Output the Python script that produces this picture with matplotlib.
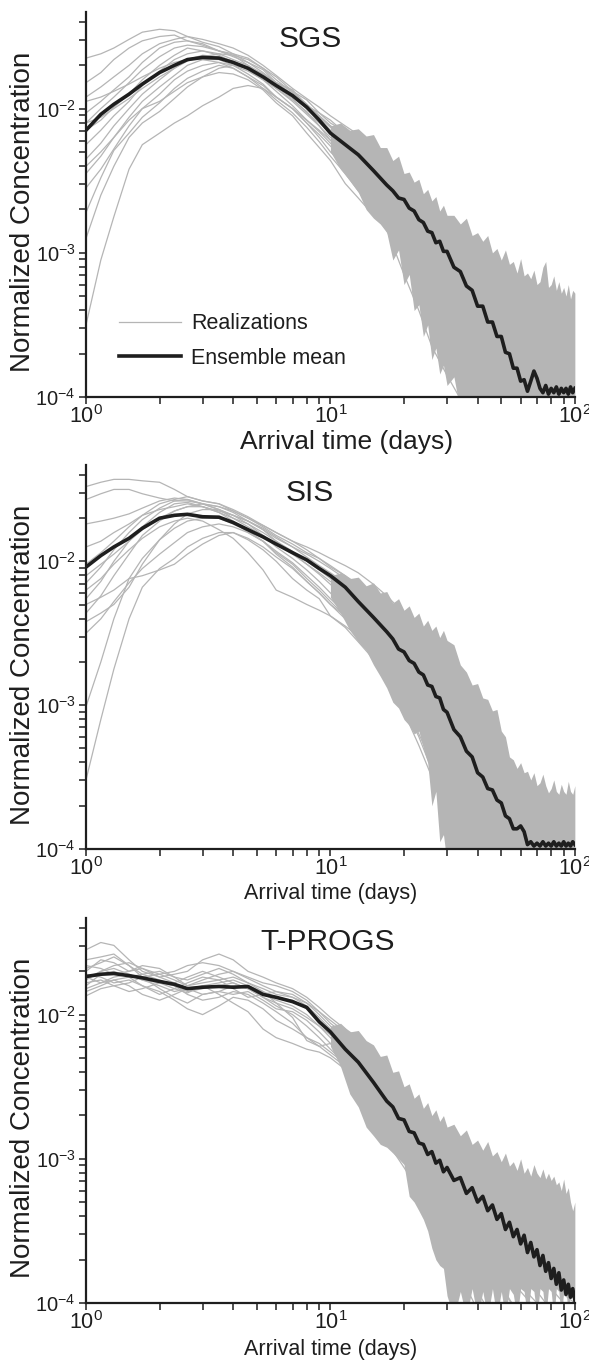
# Breakthrough curves: realizations vs ensemble mean for SGS, SIS and T-PROGS

import numpy as np
import matplotlib
matplotlib.use("Agg")
import matplotlib.pyplot as plt
from matplotlib.ticker import LogLocator, NullFormatter

plt.rcParams['font.family'] = ['Liberation Sans', 'DejaVu Sans']
plt.rcParams['mathtext.fontset'] = 'custom'
plt.rcParams['mathtext.rm'] = 'Liberation Sans'
plt.rcParams['mathtext.it'] = 'Liberation Sans:italic'

# time (days) of the realization points
t_real = [1.0, 1.15, 1.3, 1.5, 1.7, 2.0, 2.3, 2.6, 3.0, 3.5, 4.0, 4.6, 5.3, 6.0, 7.0,
          8.0, 9.0, 10, 11.5, 13, 15, 17, 20, 23, 26, 30, 35, 40, 46, 53, 60, 70, 80, 90, 100]

# time (days) of the spread of the noisy late-time realizations
t_band = [10, 11, 12, 13, 14, 15, 16, 17, 18, 19, 20, 21, 22, 23, 24, 25, 26, 27, 28, 29, 30,
          32, 34, 36, 38, 40, 42, 44, 46, 48, 50, 52, 54, 56, 58, 60, 62, 64, 66, 68, 70,
          72, 74, 76, 78, 80, 82, 84, 86, 88, 90, 92, 94, 96, 98, 100]

# time (days) of the ensemble mean points
t_mean = [1.0, 1.15, 1.3, 1.5, 1.7, 2.0, 2.3, 2.6, 3.0, 3.5, 4.0, 4.6, 5.3, 6.0, 7.0,
          8.0, 9.0, 10, 11.5, 13, 15, 17,
          18, 19, 20, 21, 22, 23, 24, 25, 26, 27, 28, 29, 30,
          32, 34, 36, 38, 40, 42, 44, 46, 48, 50, 52, 54, 56, 58, 60, 62, 64, 66, 68, 70,
          72, 74, 76, 78, 80, 82, 84, 86, 88, 90, 92, 94, 96, 98, 100]

# all concentrations below are log10 of normalized concentration

# ---------------- SGS ----------------
sgs_real = [
    [-1.65, -1.62, -1.58, -1.52, -1.47, -1.45, -1.46, -1.50, -1.52, -1.55, -1.58, -1.63, -1.70, -1.77, -1.86, -1.93, -1.99, -2.05, -2.12, -2.18, -2.25, -2.34, -2.46, -2.57, -2.68, -2.78, -2.88, -2.96, -3.06, -3.13, -3.20, -3.25, -3.30, -3.33, -3.38],
    [-1.82, -1.75, -1.66, -1.58, -1.53, -1.50, -1.49, -1.53, -1.55, -1.60, -1.62, -1.68, -1.73, -1.82, -1.87, -1.98, -2.03, -2.10, -2.16, -2.24, -2.30, -2.40, -2.52, -2.63, -2.74, -2.85, -2.97, -3.07, -3.18, -3.30, -3.40, -3.50, -3.58, -3.66, -3.72],
    [-1.92, -1.85, -1.78, -1.70, -1.62, -1.55, -1.52, -1.50, -1.54, -1.57, -1.62, -1.65, -1.72, -1.78, -1.88, -1.94, -2.03, -2.08, -2.17, -2.22, -2.32, -2.42, -2.55, -2.68, -2.80, -2.93, -3.08, -3.22, -3.38, -3.55, -3.70, -3.85, -3.95, -4.10, -4.20],
    [-2.03, -1.95, -1.87, -1.78, -1.68, -1.58, -1.54, -1.53, -1.56, -1.60, -1.64, -1.68, -1.75, -1.82, -1.88, -1.97, -2.05, -2.12, -2.20, -2.27, -2.36, -2.46, -2.58, -2.70, -2.83, -2.95, -3.12, -3.28, -3.45, -3.62, -3.80, -3.95, -4.10, -4.20, -4.30],
    [-2.10, -2.00, -1.92, -1.82, -1.73, -1.64, -1.58, -1.56, -1.57, -1.60, -1.63, -1.70, -1.78, -1.84, -1.92, -2.00, -2.07, -2.15, -2.23, -2.30, -2.40, -2.50, -2.62, -2.76, -2.88, -3.02, -3.18, -3.35, -3.52, -3.72, -3.90, -4.10, -4.20, -4.30, -4.40],
    [-2.15, -2.08, -1.99, -1.90, -1.80, -1.70, -1.63, -1.58, -1.60, -1.62, -1.66, -1.70, -1.76, -1.85, -1.93, -2.03, -2.10, -2.17, -2.24, -2.33, -2.44, -2.55, -2.66, -2.80, -2.93, -3.08, -3.25, -3.42, -3.60, -3.82, -4.00, -4.20, -4.30, -4.40, -4.50],
    [-2.25, -2.15, -2.05, -1.95, -1.84, -1.74, -1.66, -1.62, -1.60, -1.63, -1.68, -1.73, -1.80, -1.86, -1.95, -2.04, -2.12, -2.20, -2.28, -2.36, -2.48, -2.58, -2.72, -2.86, -3.00, -3.14, -3.32, -3.50, -3.70, -3.90, -4.10, -4.30, -4.40, -4.50, -4.50],
    [-2.35, -2.24, -2.12, -2.00, -1.90, -1.80, -1.72, -1.66, -1.63, -1.64, -1.67, -1.72, -1.78, -1.86, -1.94, -2.02, -2.12, -2.22, -2.32, -2.42, -2.55, -2.66, -2.80, -2.96, -3.12, -3.28, -3.45, -3.65, -3.85, -4.05, -4.20, -4.40, -4.50, -4.50, -4.50],
    [-2.45, -2.33, -2.20, -2.06, -1.95, -1.85, -1.77, -1.70, -1.66, -1.66, -1.70, -1.76, -1.83, -1.92, -2.00, -2.10, -2.18, -2.26, -2.36, -2.46, -2.60, -2.72, -2.88, -3.04, -3.20, -3.38, -3.56, -3.76, -3.96, -4.10, -4.30, -4.50, -4.50, -4.50, -4.50],
    [-2.55, -2.42, -2.28, -2.12, -2.00, -1.90, -1.80, -1.74, -1.70, -1.68, -1.70, -1.74, -1.80, -1.88, -1.98, -2.08, -2.16, -2.24, -2.34, -2.42, -2.52, -2.64, -2.78, -2.92, -3.06, -3.22, -3.40, -3.58, -3.78, -3.98, -4.15, -4.35, -4.50, -4.50, -4.50],
    [-2.72, -2.48, -2.29, -2.17, -2.06, -1.96, -1.86, -1.79, -1.74, -1.70, -1.72, -1.78, -1.86, -1.94, -2.03, -2.13, -2.23, -2.33, -2.45, -2.57, -2.70, -2.83, -3.00, -3.18, -3.35, -3.55, -3.75, -3.95, -4.15, -4.35, -4.50, -4.50, -4.50, -4.50, -4.50],
    [-3.50, -3.05, -2.75, -2.42, -2.25, -2.17, -2.10, -2.05, -1.98, -1.92, -1.86, -1.84, -1.86, -1.92, -2.00, -2.08, -2.15, -2.22, -2.30, -2.38, -2.50, -2.60, -2.72, -2.85, -2.98, -3.12, -3.30, -3.48, -3.68, -3.88, -4.05, -4.25, -4.40, -4.50, -4.50],
    [-2.90, -2.60, -2.40, -2.20, -2.10, -2.02, -1.93, -1.85, -1.78, -1.72, -1.70, -1.72, -1.76, -1.82, -1.90, -1.98, -2.06, -2.13, -2.20, -2.28, -2.38, -2.48, -2.60, -2.72, -2.84, -2.98, -3.12, -3.26, -3.40, -3.56, -3.70, -3.85, -3.98, -4.10, -4.20],
    [-2.40, -2.30, -2.20, -2.08, -2.00, -1.95, -1.88, -1.82, -1.78, -1.75, -1.76, -1.80, -1.87, -1.96, -2.05, -2.17, -2.27, -2.36, -2.52, -2.62, -2.74, -2.84, -3.15, -3.40, -3.65, -3.85, -4.05, -4.30, -4.50, -4.50, -4.50, -4.50, -4.50, -4.50, -4.50],
    [-2.10, -2.06, -2.00, -1.93, -1.86, -1.78, -1.72, -1.67, -1.64, -1.62, -1.63, -1.66, -1.72, -1.80, -1.89, -1.97, -2.05, -2.12, -2.18, -2.24, -2.33, -2.43, -2.55, -2.66, -2.78, -2.88, -3.00, -3.10, -3.22, -3.34, -3.45, -3.56, -3.66, -3.75, -3.82],
    [-1.95, -1.92, -1.88, -1.83, -1.78, -1.72, -1.68, -1.66, -1.66, -1.68, -1.72, -1.78, -1.84, -1.92, -2.00, -2.10, -2.20, -2.30, -2.40, -2.50, -2.62, -2.75, -2.90, -3.05, -3.20, -3.38, -3.58, -3.78, -3.98, -4.20, -4.40, -4.50, -4.50, -4.50, -4.50],
]
sgs_mean = [-2.15, -2.04, -1.97, -1.90, -1.83, -1.75, -1.70, -1.66, -1.645, -1.65, -1.68,
            -1.72, -1.78, -1.84, -1.91, -1.99, -2.08, -2.17, -2.25, -2.32, -2.43, -2.53,
            -2.57, -2.62, -2.63, -2.69, -2.71, -2.77, -2.79, -2.85, -2.86, -2.93, -2.92,
            -2.99, -2.99, -3.10, -3.13, -3.23, -3.26, -3.37, -3.37, -3.48, -3.48, -3.58,
            -3.58, -3.69, -3.70, -3.80, -3.80, -3.89, -3.88, -3.96, -3.89, -3.82, -3.87,
            -3.94, -3.97, -3.92, -3.98, -3.94, -3.97, -3.93, -3.98, -3.94, -3.97, -3.94,
            -3.98, -3.93, -3.97, -3.94]
sgs_band_hi = [-2.12, -2.10, -2.15, -2.14, -2.19, -2.18, -2.27, -2.27, -2.36, -2.33, -2.45,
               -2.44, -2.51, -2.49, -2.59, -2.56, -2.64, -2.61, -2.71, -2.67, -2.74, -2.74,
               -2.80, -2.76, -2.88, -2.86, -2.92, -2.88, -3.00, -2.97, -3.05, -2.98, -3.08,
               -3.06, -3.14, -3.04, -3.16, -3.14, -3.18, -3.12, -3.22, -3.20, -3.10, -3.06,
               -3.24, -3.22, -3.16, -3.26, -3.20, -3.28, -3.24, -3.30, -3.22, -3.32, -3.26,
               -3.28]
sgs_band_lo = [-2.30, -2.42, -2.50, -2.58, -2.70, -2.76, -2.80, -2.86, -3.05, -2.98, -3.22,
               -3.15, -3.40, -3.36, -3.58, -3.50, -3.74, -3.66, -3.84, -3.78, -3.92, -3.86,
               -4.10, -4.10, -4.10, -4.10, -4.10, -4.10, -4.10, -4.10, -4.10, -4.10, -4.10,
               -4.10, -4.10, -4.10, -4.10, -4.10, -4.10, -4.10, -4.10, -4.10, -4.10, -4.10,
               -4.10, -4.10, -4.10, -4.10, -4.10, -4.10, -4.10, -4.10, -4.10, -4.10, -4.10,
               -4.10]

# ---------------- SIS ----------------
sis_real = [
    [-1.48, -1.45, -1.43, -1.43, -1.44, -1.45, -1.50, -1.55, -1.58, -1.60, -1.65, -1.70, -1.76, -1.82, -1.88, -1.94, -1.98, -2.03, -2.10, -2.16, -2.24, -2.32, -2.43, -2.55, -2.68, -2.84, -3.02, -3.20, -3.38, -3.55, -3.70, -3.85, -4.00, -4.20, -4.40],
    [-1.57, -1.53, -1.50, -1.50, -1.53, -1.56, -1.58, -1.58, -1.60, -1.62, -1.66, -1.72, -1.78, -1.84, -1.90, -1.95, -2.00, -2.05, -2.12, -2.18, -2.26, -2.34, -2.46, -2.60, -2.74, -2.92, -3.12, -3.32, -3.50, -3.68, -3.85, -4.00, -4.20, -4.40, -4.50],
    [-1.74, -1.72, -1.70, -1.67, -1.63, -1.58, -1.56, -1.57, -1.60, -1.64, -1.68, -1.72, -1.78, -1.86, -1.93, -2.00, -2.06, -2.12, -2.20, -2.28, -2.40, -2.52, -2.66, -2.82, -2.98, -3.15, -3.35, -3.55, -3.75, -3.95, -4.10, -4.30, -4.50, -4.50, -4.50],
    [-2.02, -1.94, -1.86, -1.76, -1.68, -1.60, -1.57, -1.55, -1.58, -1.60, -1.64, -1.69, -1.75, -1.80, -1.86, -1.90, -1.94, -1.98, -2.03, -2.08, -2.16, -2.24, -2.36, -2.48, -2.60, -2.76, -2.95, -3.10, -3.28, -3.45, -3.58, -3.70, -3.85, -4.00, -4.10],
    [-2.15, -2.04, -1.92, -1.80, -1.71, -1.63, -1.58, -1.57, -1.60, -1.64, -1.70, -1.76, -1.82, -1.88, -1.95, -2.02, -2.08, -2.14, -2.22, -2.30, -2.42, -2.55, -2.70, -2.86, -3.02, -3.20, -3.42, -3.62, -3.82, -4.00, -4.20, -4.40, -4.50, -4.50, -4.50],
    [-2.26, -2.14, -2.00, -1.86, -1.76, -1.66, -1.60, -1.59, -1.62, -1.66, -1.70, -1.74, -1.80, -1.86, -1.94, -2.02, -2.09, -2.16, -2.26, -2.36, -2.50, -2.64, -2.82, -3.00, -3.18, -3.38, -3.60, -3.82, -4.05, -4.25, -4.45, -4.50, -4.50, -4.50, -4.50],
    [-2.36, -2.24, -2.10, -1.95, -1.82, -1.72, -1.65, -1.62, -1.62, -1.65, -1.68, -1.72, -1.77, -1.83, -1.90, -1.97, -2.03, -2.08, -2.15, -2.22, -2.32, -2.42, -2.55, -2.70, -2.85, -3.02, -3.20, -3.38, -3.55, -3.72, -3.90, -4.05, -4.20, -4.35, -4.50],
    [-2.42, -2.36, -2.30, -2.18, -2.02, -1.85, -1.74, -1.67, -1.64, -1.64, -1.68, -1.74, -1.82, -1.90, -1.98, -2.06, -2.14, -2.22, -2.32, -2.44, -2.58, -2.74, -2.92, -3.12, -3.32, -3.52, -3.75, -4.00, -4.20, -4.40, -4.50, -4.50, -4.50, -4.50, -4.50],
    [-3.01, -2.70, -2.40, -2.12, -1.98, -1.85, -1.77, -1.72, -1.70, -1.70, -1.74, -1.79, -1.86, -1.93, -2.01, -2.10, -2.18, -2.26, -2.36, -2.46, -2.60, -2.75, -2.92, -3.10, -3.30, -3.50, -3.72, -3.95, -4.15, -4.35, -4.50, -4.50, -4.50, -4.50, -4.50],
    [-3.52, -3.10, -2.75, -2.40, -2.18, -2.05, -1.98, -1.90, -1.84, -1.80, -1.80, -1.84, -1.90, -1.97, -2.05, -2.14, -2.22, -2.30, -2.40, -2.52, -2.66, -2.82, -3.00, -3.20, -3.40, -3.62, -3.85, -4.10, -4.30, -4.50, -4.50, -4.50, -4.50, -4.50, -4.50],
    [-2.30, -2.25, -2.20, -2.12, -2.10, -2.06, -2.02, -1.95, -1.88, -1.82, -1.80, -1.85, -1.92, -2.00, -2.12, -2.20, -2.26, -2.38, -2.46, -2.56, -2.68, -2.85, -3.05, -3.28, -3.50, -3.75, -4.00, -4.25, -4.50, -4.50, -4.50, -4.50, -4.50, -4.50, -4.50],
    [-1.90, -1.86, -1.80, -1.74, -1.68, -1.64, -1.62, -1.60, -1.62, -1.66, -1.72, -1.80, -1.86, -1.95, -2.04, -2.14, -2.22, -2.30, -2.38, -2.46, -2.56, -2.68, -2.86, -3.05, -3.25, -3.48, -3.72, -3.95, -4.15, -4.35, -4.50, -4.50, -4.50, -4.50, -4.50],
    [-2.10, -2.02, -1.95, -1.86, -1.78, -1.70, -1.65, -1.62, -1.60, -1.62, -1.65, -1.70, -1.75, -1.80, -1.86, -1.92, -1.98, -2.04, -2.10, -2.18, -2.28, -2.38, -2.50, -2.62, -2.75, -2.90, -3.08, -3.25, -3.42, -3.58, -3.72, -3.85, -4.00, -4.10, -4.20],
    [-2.50, -2.40, -2.28, -2.15, -2.05, -1.95, -1.87, -1.80, -1.76, -1.74, -1.76, -1.80, -1.86, -1.94, -2.02, -2.12, -2.20, -2.28, -2.38, -2.48, -2.62, -2.78, -2.96, -3.16, -3.36, -3.58, -3.82, -4.05, -4.30, -4.50, -4.50, -4.50, -4.50, -4.50, -4.50],
    [-2.20, -2.12, -2.02, -1.92, -1.84, -1.76, -1.72, -1.70, -1.72, -1.78, -1.84, -1.94, -2.06, -2.20, -2.25, -2.30, -2.34, -2.38, -2.45, -2.52, -2.62, -2.80, -3.00, -3.22, -3.45, -3.70, -3.95, -4.20, -4.45, -4.50, -4.50, -4.50, -4.50, -4.50, -4.50],
]
sis_mean = [-2.04, -1.96, -1.90, -1.84, -1.77, -1.70, -1.68, -1.673, -1.69, -1.693, -1.73,
            -1.78, -1.83, -1.88, -1.94, -1.99, -2.05, -2.10, -2.18, -2.28, -2.39, -2.49,
            -2.54, -2.61, -2.63, -2.69, -2.71, -2.77, -2.79, -2.86, -2.87, -2.94, -2.95,
            -3.03, -3.05, -3.17, -3.22, -3.32, -3.36, -3.47, -3.50, -3.58, -3.59, -3.66,
            -3.68, -3.77, -3.79, -3.86, -3.86, -3.84, -3.88, -3.97, -3.95, -3.98, -3.96,
            -3.98, -3.95, -3.98, -3.96, -3.98, -3.95, -3.98, -3.96, -3.98, -3.95, -3.98,
            -3.96, -3.98, -3.95, -3.97]
sis_band_hi = [-2.10, -2.08, -2.12, -2.11, -2.17, -2.15, -2.22, -2.21, -2.29, -2.26, -2.34,
               -2.31, -2.39, -2.36, -2.45, -2.41, -2.48, -2.45, -2.53, -2.48, -2.55, -2.58,
               -2.72, -2.77, -2.86, -2.85, -2.95, -2.96, -3.04, -3.03, -3.18, -3.22, -3.36,
               -3.38, -3.44, -3.40, -3.47, -3.46, -3.52, -3.47, -3.56, -3.54, -3.48, -3.56,
               -3.61, -3.58, -3.52, -3.60, -3.62, -3.55, -3.60, -3.62, -3.53, -3.60, -3.62,
               -3.56]
sis_band_lo = [-2.25, -2.36, -2.48, -2.56, -2.62, -2.72, -2.80, -2.88, -2.98, -3.02, -3.10,
               -3.14, -3.20, -3.18, -3.30, -3.40, -3.70, -3.60, -3.95, -3.90, -4.10, -4.10,
               -4.10, -4.10, -4.10, -4.10, -4.10, -4.10, -4.10, -4.10, -4.10, -4.10, -4.10,
               -4.10, -4.10, -4.10, -4.10, -4.10, -4.10, -4.10, -4.10, -4.10, -4.10, -4.10,
               -4.10, -4.10, -4.10, -4.10, -4.10, -4.10, -4.10, -4.10, -4.10, -4.10, -4.10,
               -4.10]

# ---------------- T-PROGS ----------------
tp_real = [
    [-1.55, -1.50, -1.52, -1.62, -1.70, -1.74, -1.72, -1.70, -1.62, -1.58, -1.62, -1.70, -1.74, -1.78, -1.82, -1.88, -1.95, -2.02, -2.10, -2.16, -2.26, -2.36, -2.52, -2.64, -2.74, -2.84, -2.94, -3.02, -3.08, -3.12, -3.16, -3.22, -3.28, -3.34, -3.42],
    [-1.68, -1.64, -1.60, -1.66, -1.72, -1.70, -1.74, -1.80, -1.76, -1.72, -1.70, -1.75, -1.80, -1.84, -1.86, -1.92, -2.00, -2.08, -2.18, -2.28, -2.42, -2.56, -2.72, -2.86, -2.96, -3.06, -3.16, -3.24, -3.32, -3.42, -3.50, -3.60, -3.70, -3.80, -3.88],
    [-1.75, -1.70, -1.68, -1.72, -1.76, -1.78, -1.82, -1.85, -1.80, -1.78, -1.76, -1.80, -1.84, -1.88, -1.90, -1.96, -2.04, -2.12, -2.22, -2.34, -2.50, -2.64, -2.80, -2.94, -3.04, -3.14, -3.25, -3.34, -3.44, -3.55, -3.65, -3.78, -3.90, -4.00, -4.10],
    [-1.82, -1.78, -1.74, -1.72, -1.76, -1.80, -1.84, -1.82, -1.86, -1.84, -1.80, -1.82, -1.86, -1.90, -1.94, -2.00, -2.08, -2.16, -2.26, -2.38, -2.54, -2.70, -2.88, -3.02, -3.14, -3.26, -3.38, -3.50, -3.62, -3.75, -3.88, -4.00, -4.15, -4.30, -4.40],
    [-1.87, -1.82, -1.80, -1.78, -1.74, -1.72, -1.76, -1.80, -1.78, -1.76, -1.74, -1.78, -1.82, -1.86, -1.88, -1.92, -1.98, -2.04, -2.12, -2.20, -2.30, -2.42, -2.58, -2.72, -2.84, -2.94, -3.04, -3.14, -3.22, -3.30, -3.38, -3.48, -3.58, -3.68, -3.78],
    [-1.62, -1.60, -1.58, -1.66, -1.74, -1.82, -1.88, -1.92, -1.86, -1.84, -1.86, -1.84, -1.90, -1.96, -1.98, -2.04, -2.12, -2.20, -2.32, -2.45, -2.62, -2.78, -2.96, -3.12, -3.26, -3.40, -3.55, -3.68, -3.82, -3.96, -4.10, -4.25, -4.40, -4.50, -4.50],
    [-1.70, -1.62, -1.64, -1.70, -1.66, -1.68, -1.74, -1.76, -1.72, -1.68, -1.72, -1.78, -1.84, -1.92, -1.96, -2.02, -2.08, -2.14, -2.24, -2.36, -2.52, -2.66, -2.82, -2.96, -3.08, -3.20, -3.32, -3.42, -3.54, -3.66, -3.78, -3.92, -4.05, -4.20, -4.30],
    [-1.78, -1.76, -1.80, -1.84, -1.82, -1.78, -1.80, -1.86, -1.90, -1.88, -1.84, -1.86, -1.92, -1.98, -2.06, -2.16, -2.22, -2.28, -2.36, -2.46, -2.62, -2.80, -3.00, -3.20, -3.40, -3.62, -3.85, -4.05, -4.25, -4.45, -4.50, -4.50, -4.50, -4.50, -4.50],
    [-1.72, -1.74, -1.78, -1.76, -1.80, -1.86, -1.82, -1.78, -1.74, -1.76, -1.82, -1.88, -1.86, -1.84, -1.88, -1.94, -2.02, -2.10, -2.20, -2.30, -2.44, -2.58, -2.74, -2.88, -3.00, -3.12, -3.24, -3.34, -3.44, -3.54, -3.64, -3.74, -3.84, -3.94, -4.00],
    [-1.80, -1.72, -1.70, -1.74, -1.80, -1.84, -1.90, -1.96, -2.00, -1.94, -1.88, -1.90, -1.96, -2.04, -2.10, -2.16, -2.20, -2.26, -2.34, -2.45, -2.60, -2.76, -2.94, -3.10, -3.24, -3.38, -3.52, -3.66, -3.80, -3.95, -4.10, -4.30, -4.50, -4.50, -4.50],
    [-1.66, -1.68, -1.72, -1.70, -1.68, -1.74, -1.78, -1.74, -1.70, -1.74, -1.78, -1.82, -1.88, -1.92, -2.02, -2.18, -2.22, -2.20, -2.28, -2.40, -2.56, -2.72, -2.90, -3.06, -3.18, -3.30, -3.42, -3.54, -3.66, -3.80, -3.92, -4.05, -4.20, -4.35, -4.50],
    [-1.84, -1.80, -1.76, -1.80, -1.86, -1.90, -1.86, -1.82, -1.80, -1.86, -1.92, -1.98, -2.10, -2.16, -2.20, -2.24, -2.26, -2.30, -2.38, -2.52, -2.70, -2.88, -3.06, -3.22, -3.38, -3.55, -3.75, -3.95, -4.15, -4.35, -4.50, -4.50, -4.50, -4.50, -4.50],
    [-1.76, -1.70, -1.66, -1.64, -1.68, -1.72, -1.70, -1.66, -1.64, -1.66, -1.70, -1.74, -1.78, -1.80, -1.84, -1.90, -1.98, -2.06, -2.14, -2.22, -2.34, -2.48, -2.64, -2.78, -2.88, -2.98, -3.08, -3.16, -3.24, -3.32, -3.40, -3.50, -3.60, -3.70, -3.80],
    [-1.74, -1.78, -1.76, -1.74, -1.72, -1.76, -1.80, -1.84, -1.82, -1.80, -1.78, -1.82, -1.88, -1.94, -2.00, -2.08, -2.16, -2.24, -2.34, -2.46, -2.62, -2.78, -2.98, -3.18, -3.36, -3.55, -3.75, -3.92, -4.10, -4.30, -4.45, -4.50, -4.50, -4.50, -4.50],
]
tp_mean = [-1.736, -1.72, -1.715, -1.73, -1.745, -1.77, -1.79, -1.82, -1.81, -1.805, -1.81,
           -1.805, -1.86, -1.88, -1.91, -1.95, -2.05, -2.12, -2.24, -2.33, -2.47, -2.60,
           -2.64, -2.72, -2.73, -2.81, -2.82, -2.89, -2.90, -2.97, -2.95, -3.03, -3.01,
           -3.09, -3.06, -3.15, -3.13, -3.24, -3.20, -3.30, -3.26, -3.36, -3.32, -3.42,
           -3.38, -3.49, -3.44, -3.54, -3.49, -3.59, -3.53, -3.65, -3.58, -3.68, -3.63,
           -3.74, -3.67, -3.78, -3.72, -3.83, -3.76, -3.87, -3.79, -3.91, -3.84, -3.94,
           -3.87, -3.96, -3.90, -3.98]
tp_band_hi = [-2.08, -2.06, -2.12, -2.11, -2.18, -2.21, -2.29, -2.28, -2.40, -2.39, -2.50,
              -2.48, -2.58, -2.55, -2.65, -2.61, -2.70, -2.66, -2.74, -2.70, -2.78, -2.76,
              -2.84, -2.80, -2.90, -2.87, -2.94, -2.88, -2.98, -2.95, -3.02, -2.96, -3.05,
              -3.02, -3.08, -3.00, -3.10, -3.06, -3.12, -3.04, -3.10, -3.13, -3.07, -3.14,
              -3.10, -3.15, -3.12, -3.18, -3.16, -3.22, -3.14, -3.24, -3.20, -3.30, -3.36,
              -3.30]
tp_band_lo = [-2.22, -2.36, -2.55, -2.64, -2.78, -2.84, -2.90, -2.92, -2.96, -3.00, -3.04,
              -3.26, -3.30, -3.36, -3.42, -3.50, -3.62, -3.70, -3.74, -3.76, -3.95, -4.10,
              -3.92, -4.10, -3.90, -4.10, -3.92, -4.10, -3.90, -4.10, -3.92, -4.10, -3.90,
              -3.94, -4.10, -3.90, -3.92, -4.10, -3.90, -3.92, -4.10, -3.90, -3.92, -4.10,
              -3.90, -3.92, -4.10, -3.90, -3.92, -4.10, -3.92, -3.90, -4.10, -3.92, -3.94,
              -4.10]

panels = [
    ("SGS", sgs_real, sgs_mean, sgs_band_hi, sgs_band_lo),
    ("SIS", sis_real, sis_mean, sis_band_hi, sis_band_lo),
    ("T-PROGS", tp_real, tp_mean, tp_band_hi, tp_band_lo),
]

# axes rectangles in figure fraction
rects = [
    [0.146, 0.7085, 0.830, 0.2827],
    [0.146, 0.3767, 0.830, 0.2819],
    [0.146, 0.0433, 0.830, 0.2827],
]
title_pos = [(0.458, 0.93), (0.458, 0.927), (0.495, 0.938)]
xlabel_size = [19, 15.5, 15.5]
xlabel_pos = [(0.534, -0.117), (0.5, -0.117), (0.5, -0.12)]

gray = '#b5b5b5'
dark = '#1e1e1e'

fig = plt.figure(figsize=(5.89, 13.62), dpi=100)

for i, (name, real, mean, band_hi, band_lo) in enumerate(panels):
    ax = fig.add_axes(rects[i])

    # spread of the noisy tails
    ax.fill_between(t_band, 10 ** np.array(band_lo), 10 ** np.array(band_hi),
                    color=gray, lw=0, zorder=1)

    # individual realizations
    for j, r in enumerate(real):
        ax.plot(t_real, 10 ** np.array(r), color=gray, lw=0.9, zorder=2,
                label='Realizations' if j == 0 else None)

    # ensemble mean
    ax.plot(t_mean, 10 ** np.array(mean), color=dark, lw=2.6, zorder=3,
            label='Ensemble mean')

    ax.set_xscale('log')
    ax.set_yscale('log')
    ax.set_xlim(1, 100)
    ax.set_ylim(1e-4, 10 ** -1.33)

    ax.set_xticks([1, 10, 100])
    ax.set_xticklabels([r'$10^{0}$', r'$10^{1}$', r'$10^{2}$'])
    ax.set_yticks([1e-4, 1e-3, 1e-2])
    ax.set_yticklabels([r'$10^{-4}$', r'$10^{-3}$', r'$10^{-2}$'])
    ax.xaxis.set_minor_locator(LogLocator(base=10, subs=np.arange(2, 10)))
    ax.yaxis.set_minor_locator(LogLocator(base=10, subs=np.arange(2, 10)))
    ax.xaxis.set_minor_formatter(NullFormatter())
    ax.yaxis.set_minor_formatter(NullFormatter())

    for side in ['top', 'right']:
        ax.spines[side].set_visible(False)
    for side in ['left', 'bottom']:
        ax.spines[side].set_linewidth(1.6)
        ax.spines[side].set_color(dark)

    ax.tick_params(which='both', direction='out', length=5, width=1.1, color=dark)
    ax.tick_params(axis='x', which='both', labelsize=15.5, pad=1, labelcolor=dark)
    ax.tick_params(axis='y', which='both', labelsize=14.5, pad=2.5, labelcolor=dark)

    ax.set_ylabel('Normalized Concentration', fontsize=20, color=dark, va='center')
    ax.yaxis.set_label_coords(-0.129, 0.48)
    ax.set_xlabel('Arrival time (days)', fontsize=xlabel_size[i], color=dark, va='center')
    ax.xaxis.set_label_coords(*xlabel_pos[i])

    ax.text(title_pos[i][0], title_pos[i][1], name, transform=ax.transAxes,
            fontsize=21.5, color=dark, ha='center', va='center')

    if i == 0:
        ax.legend(loc='upper left', bbox_to_anchor=(0.068, 0.217), frameon=False,
                  fontsize=15.5, handlelength=2.85, handletextpad=0.5,
                  labelspacing=0.61, borderpad=0, borderaxespad=0, labelcolor=dark)

plt.savefig('out.png', dpi=100)
